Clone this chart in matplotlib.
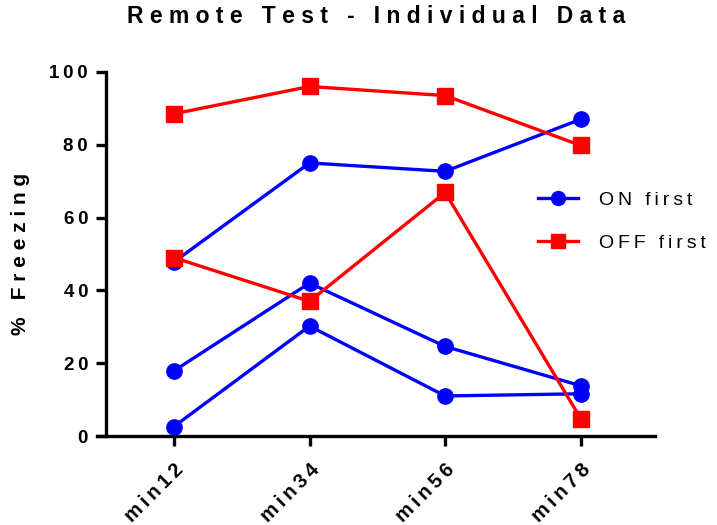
import matplotlib
matplotlib.use("Agg")
import matplotlib.pyplot as plt
from matplotlib.lines import Line2D

plt.rcParams['font.family'] = ['Liberation Sans', 'DejaVu Sans']

# data
timepoints = ["min12", "min34", "min56", "min78"]
on_first = [
    [47.8, 75.0, 72.7, 87.0],
    [17.9, 42.0, 24.6, 13.8],
    [2.6, 30.2, 11.0, 11.6],
]
off_first = [
    [88.5, 96.0, 93.5, 79.8],
    [49.0, 37.0, 66.9, 4.8],
]
series_names = ["ON first", "OFF first"]
yticks = [0, 20, 40, 60, 80, 100]


def spaced(s, sep="\u2009"):
    # prism-like letter spacing
    return sep.join(s)


fig = plt.figure(figsize=(7.17, 5.25), dpi=100)
ax = fig.add_axes([0.148, 0.1695, 0.766, 0.6935])

x = list(range(len(timepoints)))
for vals in on_first:
    ax.plot(x, vals, color="#0000ff", lw=2.4, marker="o", ms=11, zorder=3)
for vals in off_first:
    ax.plot(x, vals, color="#ff0000", lw=2.4, marker="s", ms=11, zorder=3)

ax.set_xlim(-0.5, 3.55)
ax.set_ylim(0, 100)
ax.set_yticks(yticks)
ax.set_yticklabels([spaced(str(t)) for t in yticks], fontsize=13.5,
                   fontweight="bold")
ax.set_xticks(x)
ax.set_xticklabels([spaced(t) for t in timepoints], rotation=45, ha="right",
                   rotation_mode="anchor", fontsize=14.5, fontweight="bold")

for side in ["top", "right"]:
    ax.spines[side].set_visible(False)
for side in ["left", "bottom"]:
    ax.spines[side].set_linewidth(2.4)
ax.spines["bottom"].set_bounds(-0.57, 3.55)
ax.tick_params(width=2.4, length=7, pad=6)
ax.tick_params(axis="x", pad=10)

ax.set_ylabel(spaced("% Freezing", " "), fontsize=15, fontweight="bold", labelpad=14)
fig.suptitle(spaced("Remote Test - Individual Data", " "), fontsize=16.5,
             fontweight="bold", x=0.524, y=0.99)

handles = [
    Line2D([], [], color="#0000ff", lw=2.4, marker="o", ms=10),
    Line2D([], [], color="#ff0000", lw=2.4, marker="s", ms=10),
]
fig.legend(handles, [spaced(n) for n in series_names], loc="upper left",
           bbox_to_anchor=(0.750, 0.635), frameon=False,
           prop={"size": 14}, handlelength=2.06, labelspacing=1.3,
           handletextpad=1.1, borderpad=0, borderaxespad=0)

fig.savefig("out.png", dpi=100)
